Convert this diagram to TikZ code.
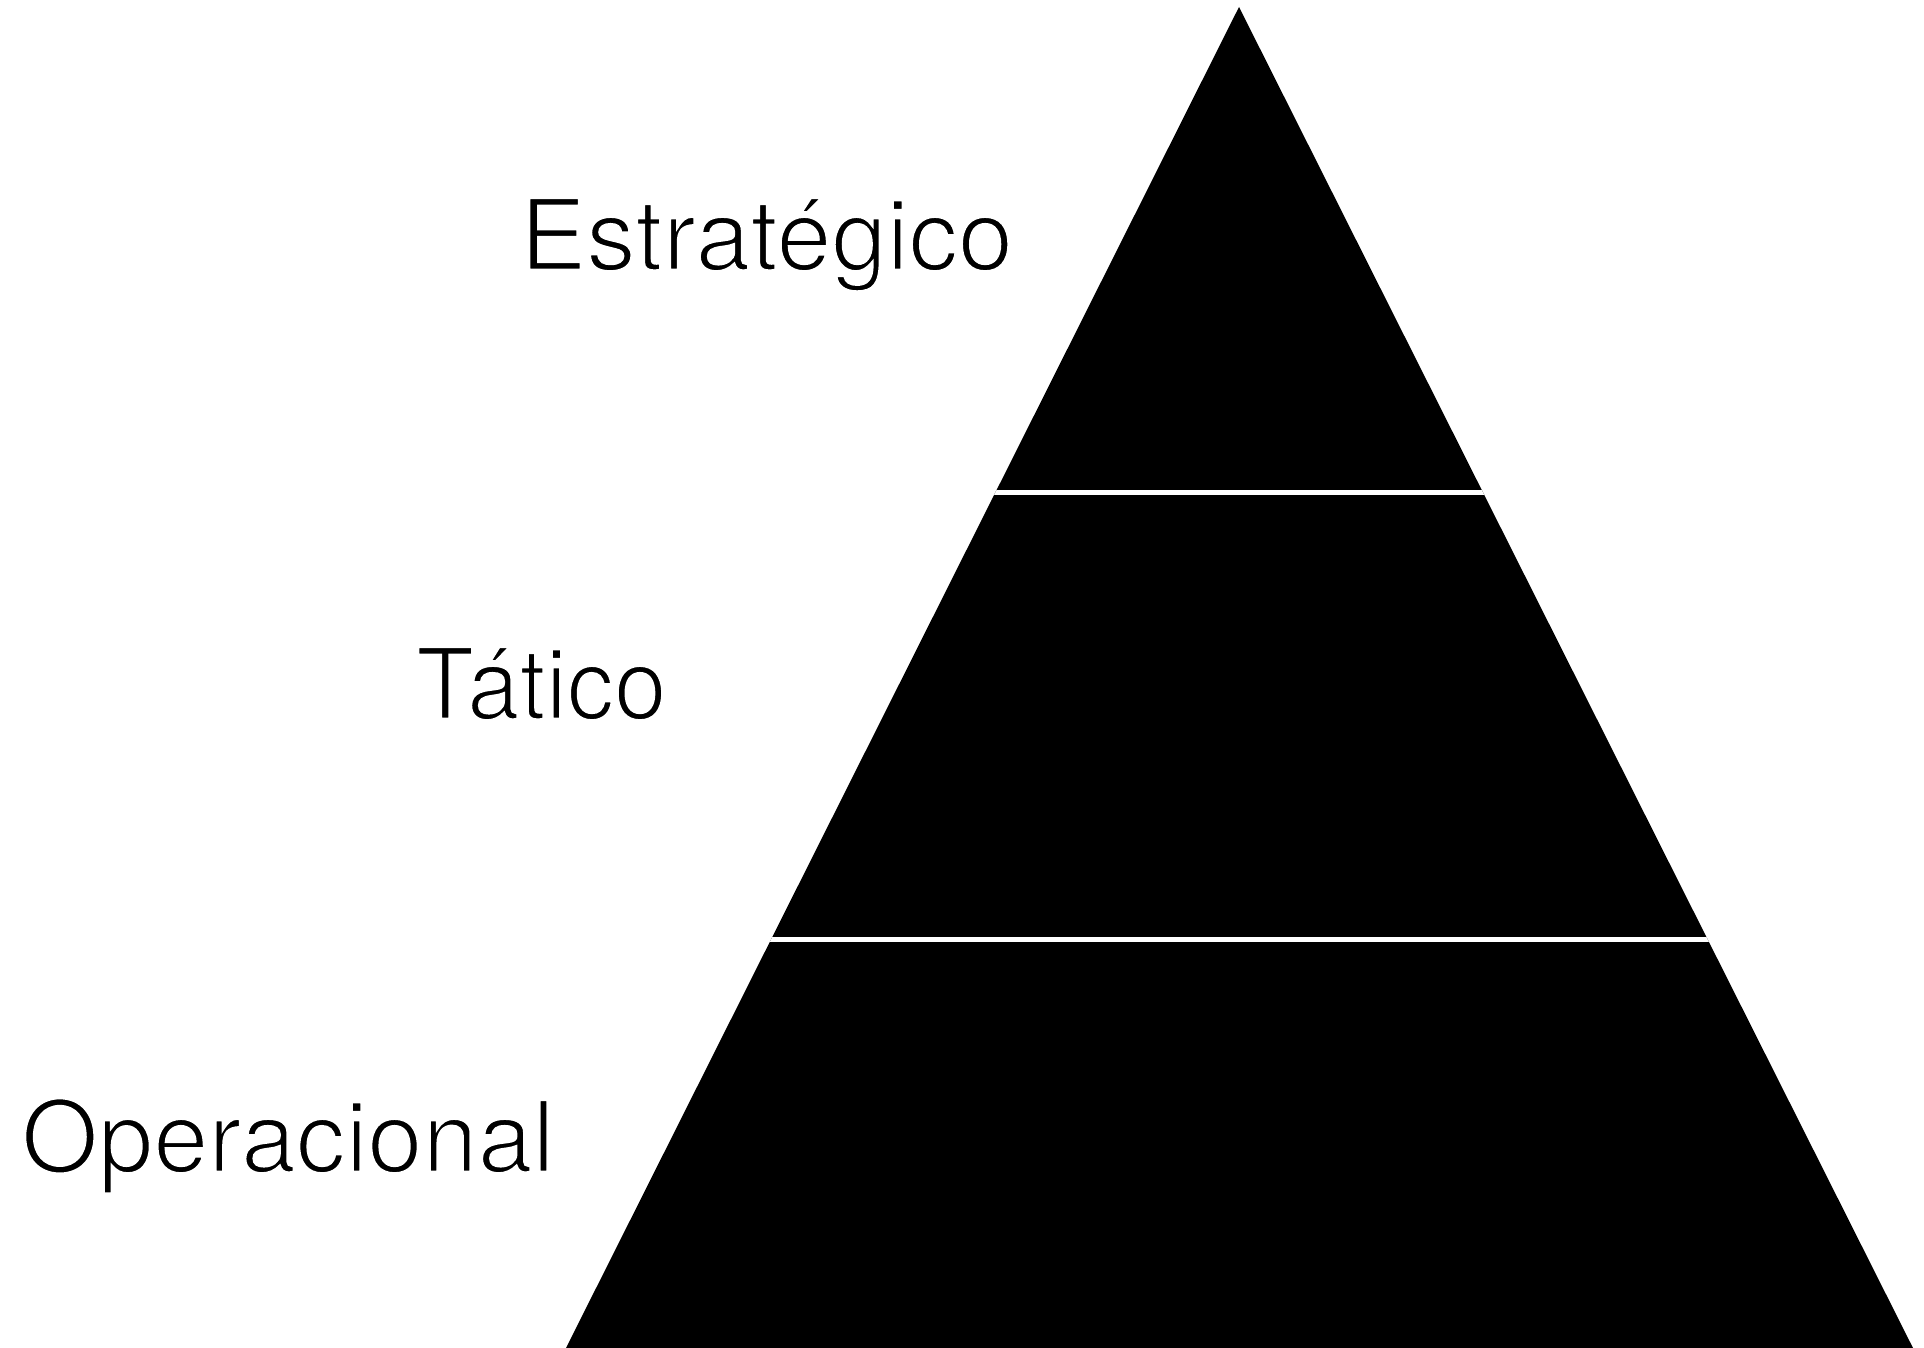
\documentclass[tikz,border=0pt]{standalone}
\usepackage{fontspec}
\setmainfont{TeX Gyre Heros}
\newcommand{\thintext}[1]{\special{pdf:literal direct 2 Tr 1 1 1 RG 2.6 w}#1\special{pdf:literal direct 0 Tr}}
\begin{document}
\begin{tikzpicture}[x=1bp,y=-1bp,
  label/.style={anchor=base west,inner sep=0pt,font=\fontsize{99.4}{100}\selectfont,text=black},
  gap/.style={draw=white,line width=5bp}]
\useasboundingbox[fill=white] (0,0) rectangle (1924,1348);
\coordinate (apex) at (1239,7);
\coordinate (bl) at (566,1348);
\coordinate (br) at (1913,1348);
\fill[black] (apex) -- (br) -- (bl) -- cycle;
\begin{scope}
  \clip (apex) -- (br) -- (bl) -- cycle;
  \coordinate (g1a) at (400,492);
  \coordinate (g1b) at (1924,492);
  \coordinate (g2a) at (400,939.5);
  \coordinate (g2b) at (1924,939.5);
  \draw[gap] (g1a) -- (g1b);
  \draw[gap] (g2a) -- (g2b);
\end{scope}
\node[label] (est) at (520,270) {\thintext{Estratégico}};
\node[label,xscale=0.955] (tat) at (416,719) {\thintext{Tático}};
\node[label] (ope) at (21,1172) {\thintext{Operacional}};
\end{tikzpicture}
\end{document}
